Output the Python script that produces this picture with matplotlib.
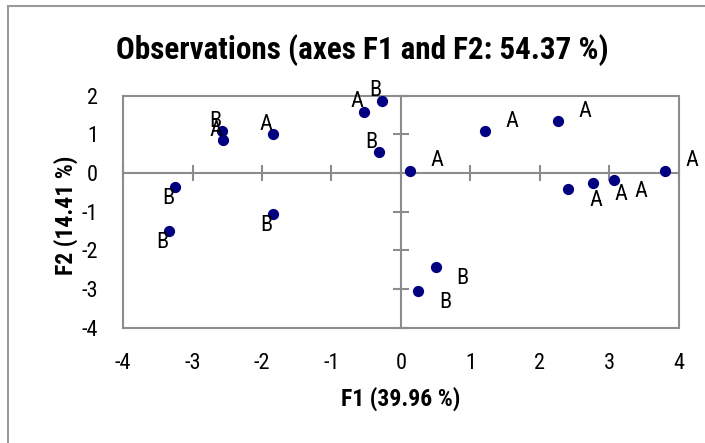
import matplotlib
matplotlib.use('Agg')
import matplotlib.pyplot as plt
from matplotlib import font_manager as fm
from matplotlib.patches import Rectangle

# coordonnées des observations sur F1 / F2
obs_f1 = [-2.57, -2.56, -1.84, -0.53, -0.27, -0.32, 0.13, -3.25, -1.84, -3.34,
          1.21, 2.26, 2.41, 2.77, 3.06, 3.80, 0.50, 0.25]
obs_f2 = [1.09, 0.86, 1.00, 1.59, 1.87, 0.55, 0.06, -0.36, -1.06, -1.51,
          1.08, 1.34, -0.42, -0.27, -0.19, 0.06, -2.43, -3.05]
obs_labels = ['B', 'A', 'A', 'A', 'B', 'B', 'A', 'B', 'B', 'B',
              'A', 'A', 'A', 'A', 'A', 'A', 'B', 'B']

x_ticks = [-4, -3, -2, -1, 0, 1, 2, 3, 4]
y_ticks = [-4, -3, -2, -1, 0, 1, 2]

# police étroite si disponible
names = {f.name for f in fm.fontManager.ttflist}
family = None
for cand in ['Liberation Sans Narrow', 'Arial Narrow', 'Roboto Condensed',
             'DejaVu Sans Condensed', 'Open Sans Condensed', 'Noto Sans Condensed']:
    if cand in names:
        family = cand
        break
stretch = 'normal'
if family is None:
    cond = [f for f in fm.fontManager.ttflist
            if f.stretch in ('condensed', 'semi-condensed', 'extra-condensed')]
    if cond:
        family = cond[0].name
        stretch = cond[0].stretch
    else:
        family = 'Liberation Sans'
plt.rcParams['font.family'] = [family, 'DejaVu Sans']
plt.rcParams['font.stretch'] = stretch
plt.rcParams['axes.unicode_minus'] = False
narrow = family != 'Liberation Sans'
k = 1.0 if narrow else 0.82

grey = '#8c8c8c'

fig = plt.figure(figsize=(7.05, 4.43), dpi=100)
ax = fig.add_axes([0.1745, 0.2603, 0.7885, 0.5237])
ax.patch.set_visible(False)

# cadre du graphique
for sp in ax.spines.values():
    sp.set_color(grey)
    sp.set_linewidth(1.5)
ax.set_xlim(-4, 4)
ax.set_ylim(-4, 2)
ax.set_xticks(x_ticks)
ax.set_yticks(y_ticks)
ax.tick_params(length=0, labelsize=16 * k, pad=18)

ax.scatter(obs_f1, obs_f2, s=50, color='#000080', zorder=3)
for x, y, lab in zip(obs_f1, obs_f2, obs_labels):
    dx = 19.5 if x > 0 else -5
    dy = 7 if y > 0 else -8
    ax.annotate(lab, (x, y), xytext=(dx, dy), textcoords='offset points',
                ha='center', va='center', fontsize=16 * k, zorder=4)

# axes passant par zéro, avec les graduations
ax2 = fig.add_axes(ax.get_position(), sharex=ax, sharey=ax)
ax2.spines['top'].set_visible(False)
ax2.spines['right'].set_visible(False)
ax2.spines['left'].set_position(('data', 0))
ax2.spines['bottom'].set_position(('data', 0))
for side in ['left', 'bottom']:
    ax2.spines[side].set_color(grey)
    ax2.spines[side].set_linewidth(1.5)
ax2.tick_params(direction='inout', length=11, width=1.5, color=grey,
                labelbottom=False, labelleft=False)
ax2.set_zorder(ax.get_zorder() - 0.5)

ax.set_xlabel('F1 (39.96 %)', fontsize=17 * k, fontweight='bold', va='baseline')
ax.xaxis.set_label_coords(0.5, -0.3375)
ax.set_ylabel('F2 (14.41 %)', fontsize=17 * k, fontweight='bold', va='center')
ax.yaxis.set_label_coords(-0.1025, 0.486)

fig.text(0.514, 1 - 59 / 443, 'Observations (axes F1 and F2: 54.37 %)',
         ha='center', va='baseline', fontsize=22.4 * k, fontweight='bold')

# bordure extérieure (coupée à droite et en bas)
fig.add_artist(Rectangle((8 / 705, -0.2), 1.2, 1.2 - 6 / 443,
                         transform=fig.transFigure, fill=False,
                         ec='#9a9a9a', lw=1.5))

fig.savefig('out.png', dpi=100)
